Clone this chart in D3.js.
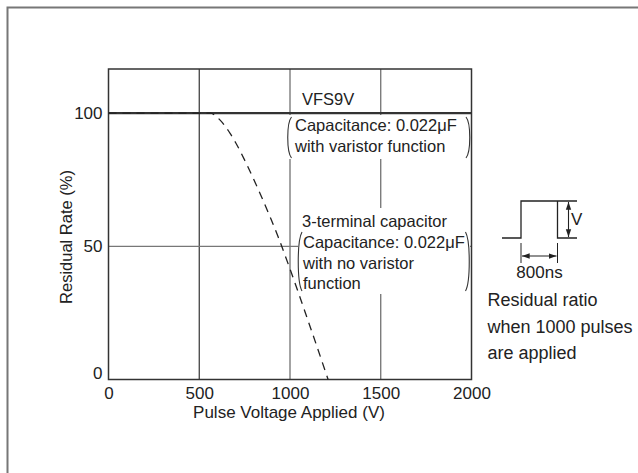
<!DOCTYPE html>
<html>
<head>
<meta charset="utf-8">
<script src="https://cdn.jsdelivr.net/npm/d3@7"></script>
<style>
  body { margin: 0; background: #fff; }
  svg text { font-family: "Liberation Sans", Arial, sans-serif; fill: #222; }
</style>
</head>
<body>
<div id="graph"></div>
<script>
// data
const xTicks = [0, 500, 1000, 1500, 2000];
const yTicks = [0, 50, 100];
const gridX = [500, 1000, 1500];
const gridY = [50];

// VFS9V keeps 100 % over the whole range
const vfsVoltage = [0, 2000];
const vfsRate = [100, 100];

// 3-terminal capacitor (dashed)
const capVoltage = [0, 500, 560, 615, 670, 700, 760, 850, 935, 1000, 1100, 1210];
const capRate = [100, 100, 100, 97.4, 92.4, 89, 81, 67.5, 53.5, 41.5, 22, 0];

const width = 638, height = 473;

let svg = d3.select("#graph")
    .append("svg")
    .attr("width", width)
    .attr("height", height);

// outer frame (cut off at right and bottom)
svg.append("rect")
    .attr("x", 7.5).attr("y", 7.5)
    .attr("width", 700).attr("height", 600)
    .attr("fill", "none")
    .attr("stroke", "#777")
    .attr("stroke-width", 2);

let x = d3.scaleLinear().domain([0, 2000]).range([108.5, 471.5]);
let y = d3.scaleLinear().domain([0, 116.6]).range([379.5, 69]);

// grid
svg.selectAll(".gx").data(gridX).enter().append("line")
    .attr("class", "gx")
    .attr("x1", d => x(d)).attr("x2", d => x(d))
    .attr("y1", y(116.6)).attr("y2", y(0))
    .attr("stroke", d => d === 500 ? "#333" : "#666")
    .attr("stroke-width", 1.2);

svg.selectAll(".gy").data(gridY).enter().append("line")
    .attr("class", "gy")
    .attr("x1", x(0)).attr("x2", x(2000))
    .attr("y1", d => y(d)).attr("y2", d => y(d))
    .attr("stroke", "#777")
    .attr("stroke-width", 1.2);

// white boxes behind the annotations hide the grid
svg.append("rect").attr("x", 287).attr("y", 115).attr("width", 183).attr("height", 44).attr("fill", "#fff");
svg.append("rect").attr("x", 298).attr("y", 208).attr("width", 172).attr("height", 86).attr("fill", "#fff");

// plot border
svg.append("rect")
    .attr("x", x(0)).attr("y", y(116.6))
    .attr("width", x(2000) - x(0)).attr("height", y(0) - y(116.6))
    .attr("fill", "none")
    .attr("stroke", "#333")
    .attr("stroke-width", 1.5);

let line = d3.line()
    .x(d => x(d[0]))
    .y(d => y(d[1]));

svg.append("path")
    .datum(d3.zip(vfsVoltage, vfsRate))
    .attr("d", line)
    .attr("fill", "none")
    .attr("stroke", "#333")
    .attr("stroke-width", 2.2);

svg.append("path")
    .datum(d3.zip(capVoltage, capRate))
    .attr("d", line.curve(d3.curveMonotoneX))
    .attr("fill", "none")
    .attr("stroke", "#222")
    .attr("stroke-width", 1.3)
    .attr("stroke-dasharray", "8,6");

// axes (labels only, no tick marks)
let xAxis = svg.append("g")
    .attr("transform", `translate(0,${y(0)})`)
    .call(d3.axisBottom(x).tickValues(xTicks).tickFormat(d3.format("d")).tickSize(0).tickPadding(7));
xAxis.select(".domain").remove();
xAxis.selectAll("text").style("font-size", "17px").attr("fill", "#222");

let yAxis = svg.append("g")
    .attr("transform", `translate(${x(0)},0)`)
    .call(d3.axisLeft(y).tickValues(yTicks).tickFormat(d3.format("d")).tickSize(0).tickPadding(6));
yAxis.select(".domain").remove();
yAxis.selectAll("text").style("font-size", "17px").attr("fill", "#222")
    .attr("dy", d => d === 0 ? "-0.05em" : "0.32em");

svg.append("text")
    .attr("x", 289).attr("y", 418)
    .style("text-anchor", "middle")
    .style("font-size", "17px")
    .text("Pulse Voltage Applied (V)");

svg.append("text")
    .attr("transform", "translate(72,237) rotate(-90)")
    .style("text-anchor", "middle")
    .style("font-size", "16.5px")
    .text("Residual Rate (%)");

// annotations
function bracket(x0, y0, y1, dir) {
    const bow = 5 * dir;
    const h = y1 - y0;
    return `M${x0},${y0} C${x0 - bow},${y0 + h * 0.15} ${x0 - bow},${y1 - h * 0.15} ${x0},${y1}`;
}
function note(lines, x0, y0) {
    let t = svg.append("text").style("font-size", "16.5px");
    lines.forEach((s, i) => {
        t.append("tspan").attr("x", x0).attr("y", y0 + i * 20.7).text(s);
    });
}

svg.append("text").attr("x", 302).attr("y", 105).style("font-size", "16.5px").text("VFS9V");
note(["Capacitance: 0.022μF", "with varistor function"], 295, 131);
svg.append("path").attr("d", bracket(291.5, 117, 158, 1)).attr("fill", "none").attr("stroke", "#333").attr("stroke-width", 1.1);
svg.append("path").attr("d", bracket(466, 117, 158, -1)).attr("fill", "none").attr("stroke", "#333").attr("stroke-width", 1.1);

note(["3-terminal capacitor"], 302, 227);
note(["Capacitance: 0.022μF", "with no varistor", "function"], 303, 248);
svg.append("path").attr("d", bracket(302, 232, 291, 1)).attr("fill", "none").attr("stroke", "#333").attr("stroke-width", 1.1);
svg.append("path").attr("d", bracket(465.5, 232, 291, -1)).attr("fill", "none").attr("stroke", "#333").attr("stroke-width", 1.1);

// pulse sketch
let defs = svg.append("defs");
defs.append("marker")
    .attr("id", "arr")
    .attr("viewBox", "0 0 10 10")
    .attr("refX", 10).attr("refY", 5)
    .attr("markerWidth", 7).attr("markerHeight", 7)
    .attr("orient", "auto-start-reverse")
    .append("path").attr("d", "M0,1.5 L10,5 L0,8.5 Z").attr("fill", "#222");

let p = svg.append("g").attr("transform", "translate(502,201)");
p.append("path")
    .attr("d", "M0,37 H19 V0 H55.5 V37 H75 M55.5,0 H75")
    .attr("fill", "none").attr("stroke", "#222").attr("stroke-width", 1.3);
p.append("line").attr("x1", 66.5).attr("x2", 66.5).attr("y1", 1).attr("y2", 36)
    .attr("stroke", "#222").attr("stroke-width", 1.1)
    .attr("marker-start", "url(#arr)").attr("marker-end", "url(#arr)");
p.append("text").attr("x", 69).attr("y", 24).style("font-size", "17px").text("V");
p.append("line").attr("x1", 19).attr("x2", 19).attr("y1", 42).attr("y2", 62).attr("stroke", "#222").attr("stroke-width", 1);
p.append("line").attr("x1", 55.5).attr("x2", 55.5).attr("y1", 42).attr("y2", 62).attr("stroke", "#222").attr("stroke-width", 1);
p.append("line").attr("x1", 20).attr("x2", 54.5).attr("y1", 55).attr("y2", 55)
    .attr("stroke", "#222").attr("stroke-width", 1.1)
    .attr("marker-start", "url(#arr)").attr("marker-end", "url(#arr)");
p.append("text").attr("x", 37.5).attr("y", 77).style("text-anchor", "middle").style("font-size", "17px").text("800ns");

let r = svg.append("text").style("font-size", "18px");
["Residual ratio", "when 1000 pulses", "are applied"].forEach((s, i) => {
    r.append("tspan").attr("x", 487.5).attr("y", 306 + i * 26.6).text(s);
});
</script>
</body>
</html>
